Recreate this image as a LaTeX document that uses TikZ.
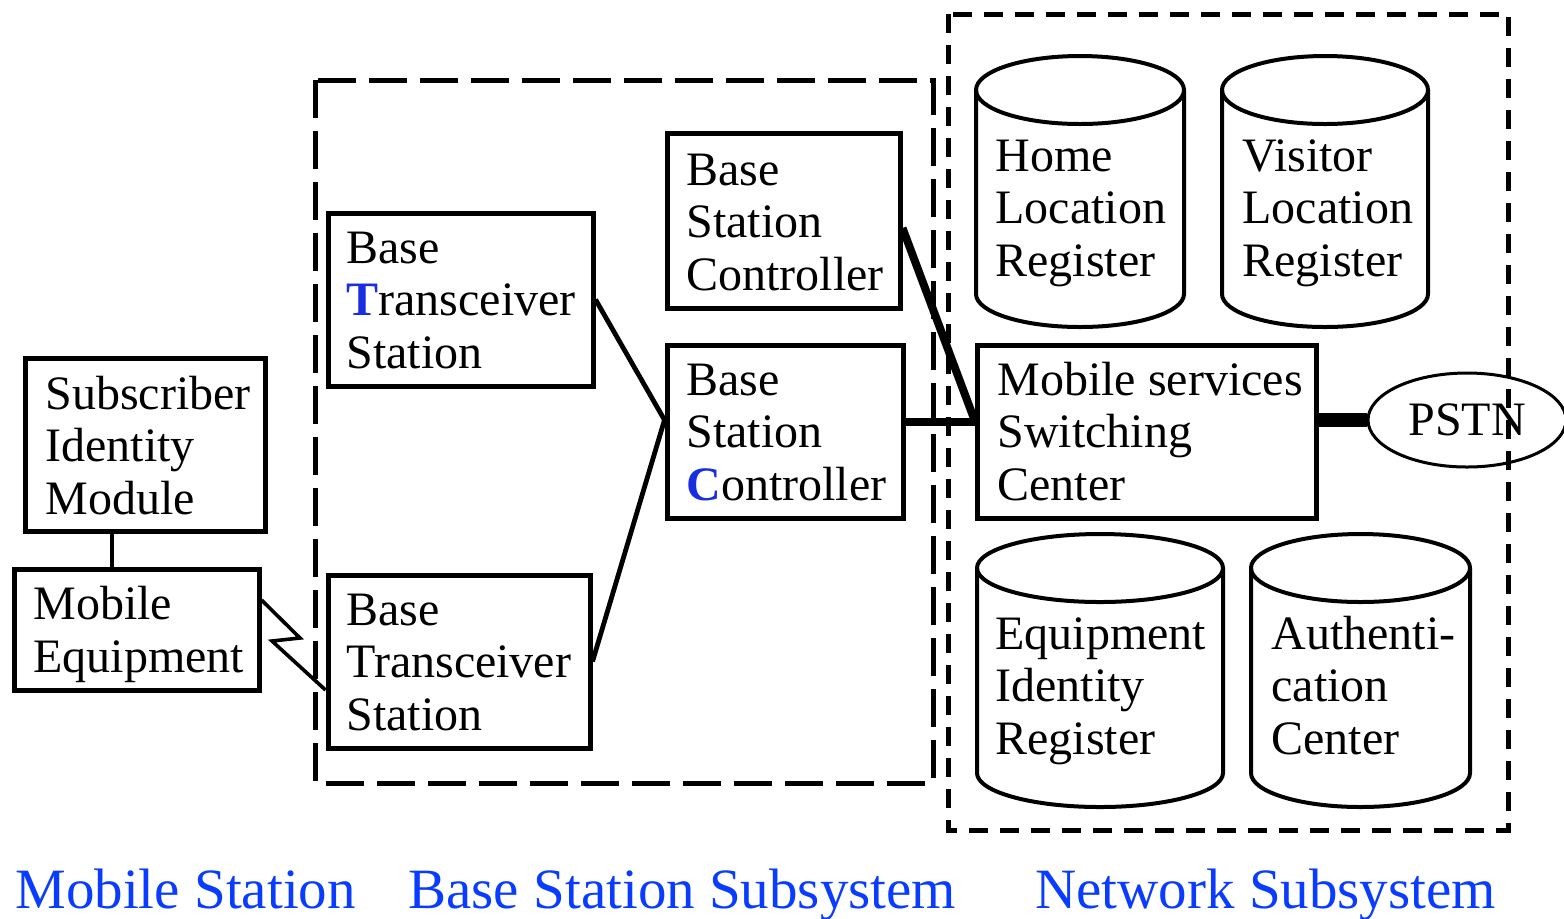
\documentclass[tikz,border=0pt]{standalone}
\usepackage{fontspec}
\setmainfont{Liberation Serif}
\usetikzlibrary{shapes.geometric}
\definecolor{hlblue}{RGB}{25,45,225}
\definecolor{lblblue}{RGB}{10,60,255}
\begin{document}
\begin{tikzpicture}[x=0.5pt,y=-0.5pt,
  box/.style={draw, line width=2.5pt, inner sep=0pt},
  txt/.style={anchor=base west, inner sep=0pt, align=left, font=\fontsize{24}{26.25}\selectfont},
  cylline/.style={line width=2pt},
  conn/.style={line width=2.4pt},
  thinconn/.style={line width=1.8pt},
  fatconn/.style={line width=4pt},
  bssframe/.style={line width=2.5pt, dash pattern=on 19pt off 6.5pt},
  nssframe/.style={line width=2.5pt, dash pattern=on 9.5pt off 6pt},
  lbl/.style={anchor=base west, inner sep=0pt, text=lblblue, font=\fontsize{28.5}{30}\selectfont},
]
\useasboundingbox (0,0) rectangle (1564,918);

% subsystem frames
\draw[bssframe] (315,80) rectangle (933,783);
\draw[nssframe] (948,14) rectangle (1508,830);

% boxes
\node[box, minimum width=120pt, minimum height=86.5pt] (sim) at (145,444.5) {};
\node[box, minimum width=122.5pt, minimum height=60.5pt] (me) at (136.5,629.5) {};
\node[box, minimum width=132.5pt, minimum height=86.5pt] (bts1) at (460.5,299.5) {};
\node[box, minimum width=131pt, minimum height=86.5pt] (bts2) at (459,661.5) {};
\node[box, minimum width=116.5pt, minimum height=87.5pt] (bsc1) at (783.5,220.5) {};
\node[box, minimum width=118pt, minimum height=86.5pt] (bsc2) at (785,431.5) {};
\node[box, minimum width=169.5pt, minimum height=86.5pt] (msc) at (1146.5,431.5) {};

% cylinders
\draw[cylline] (1080,90) ellipse [x radius=52pt, y radius=17pt];
\draw[cylline] (976,90) -- (976,294) arc[start angle=180, end angle=360, x radius=52pt, y radius=16.5pt] -- (1184,90);
\draw[cylline] (1325,90) ellipse [x radius=51.5pt, y radius=17pt];
\draw[cylline] (1222,90) -- (1222,294) arc[start angle=180, end angle=360, x radius=51.5pt, y radius=16.5pt] -- (1428,90);
\draw[cylline] (1100,568) ellipse [x radius=61.5pt, y radius=17pt];
\draw[cylline] (977,568) -- (977,773) arc[start angle=180, end angle=360, x radius=61.5pt, y radius=17pt] -- (1223,568);
\draw[cylline] (1360.5,568) ellipse [x radius=54.75pt, y radius=17pt];
\draw[cylline] (1251,568) -- (1251,773) arc[start angle=180, end angle=360, x radius=54.75pt, y radius=17pt] -- (1470,568);

% PSTN
\node[draw, ellipse, line width=1.5pt, minimum width=99pt, minimum height=47pt, inner sep=0pt,
      font=\fontsize{24}{26.25}\selectfont] (pstn) at (1467,420) {PSTN};

% texts (anchor = baseline of the last line)
\node[txt] (simtxt) at (45,514) {Subscriber\\Identity\\Module};
\node[txt] (metxt) at (33,672) {Mobile\\Equipment};
\node[txt] (bts1txt) at (346,368) {Base\\{\bfseries\color{hlblue}T}ransceiver\\Station};
\node[txt] (bts2txt) at (346,730) {Base\\Transceiver\\Station};
\node[txt] (bsc1txt) at (686,290) {Base\\Station\\Controller};
\node[txt] (bsc2txt) at (686,500) {Base\\Station\\{\bfseries\color{hlblue}C}ontroller};
\node[txt] (msctxt) at (997,500) {Mobile services\\Switching\\Center};
\node[txt] (hlrtxt) at (995,276) {Home\\Location\\Register};
\node[txt] (vlrtxt) at (1242,276) {Visitor\\Location\\Register};
\node[txt] (eirtxt) at (995,754) {Equipment\\Identity\\Register};
\node[txt] (auctxt) at (1271,754) {Authenti-\\cation\\Center};

% connectors
\draw[thinconn] ([xshift=-16.5pt]sim.south) -- ([xshift=-12.25pt]me.north);
\coordinate (z1) at (300,638);
\coordinate (z2) at (272,641);
\draw[thinconn] ([yshift=14.75pt]me.east) -- (z1) -- (z2) -- ([yshift=-14.25pt]bts2.west);
\draw[conn] (bts1.east) -- ([yshift=5.75pt]bsc2.west);
\draw[conn] (bts2.east) -- ([yshift=5.75pt]bsc2.west);
\draw[fatconn] ([yshift=-3.75pt]bsc1.east) -- ([yshift=5.75pt]msc.west);
\draw[fatconn] ([yshift=4.75pt]bsc2.east) -- ([yshift=4.75pt]msc.west);
\draw[line width=7pt] (pstn.west -| msc.east) -- (pstn.west);

% subsystem labels
\node[lbl] (mslbl) at (15,908) {Mobile Station};
\node[lbl] (bsslbl) at (408,908) {Base Station Subsystem};
\node[lbl] (nsslbl) at (1035,908) {Network Subsystem};
\end{tikzpicture}
\end{document}
